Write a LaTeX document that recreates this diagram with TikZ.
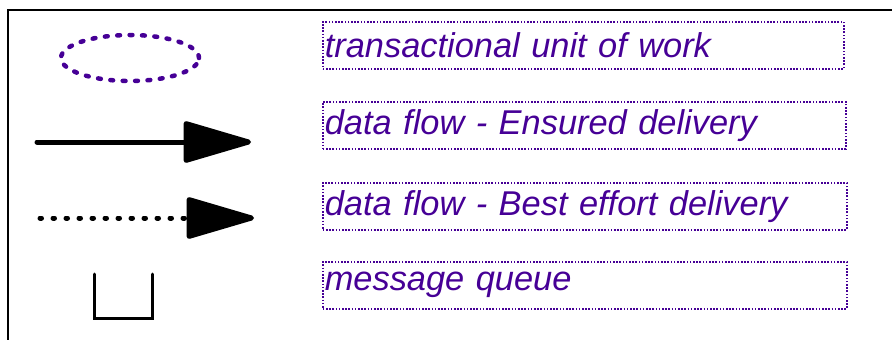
\documentclass[tikz,border=0pt]{standalone}
\usepackage{fontspec}
\setmainfont{Liberation Sans}
\usetikzlibrary{arrows.meta,shapes.geometric}
\definecolor{legendviolet}{RGB}{70,0,150}
\tikzset{
  legendbox/.style={draw=legendviolet,line width=1.6pt,dash pattern=on 1.6pt off 1.6pt,
    minimum height=47pt,inner xsep=2pt,align=left,anchor=north west,
    text=legendviolet,font=\fontsize{34.4}{40}\selectfont\itshape},
  flowtip/.style={-{Triangle[length=74pt,width=42pt,round]}},
}
\begin{document}
\begin{tikzpicture}[x=1pt,y=-1pt]
\useasboundingbox (0,0) rectangle (892,340);
\clip (0,0) rectangle (892,340);
\draw[line width=2.6pt] (900,10) -- (8,10) -- (8,350);
\node[draw=legendviolet,ellipse,line width=4.5pt,dash pattern=on 2.8pt off 9.6pt,line cap=round,
  minimum width=138pt,minimum height=46pt,inner sep=0pt] (unit) at (130,58) {};
\coordinate (safeA) at (37,142);
\coordinate (safeB) at (251,142);
\draw[flowtip,line width=5pt,line cap=round] (safeA) -- (safeB);
\coordinate (bestA) at (40,218);
\coordinate (bestB) at (254,218);
\draw[flowtip,line width=5pt,line cap=round,dash pattern=on 1.5pt off 11.5pt] (bestA) -- (bestB);
\coordinate (qa) at (94,274);
\coordinate (qb) at (94,318);
\coordinate (qc) at (152,318);
\coordinate (qd) at (152,274);
\draw[line width=3pt,line cap=round] (qa) -- (qb) -- (qc) -- (qd);
\node[legendbox,text width=517pt] (lunit) at (322,21) {transactional unit of work};
\node[legendbox,text width=519pt] (lsafe) at (322,101) {data flow - Ensured delivery};
\node[legendbox,text width=520pt] (lbest) at (322,182) {data flow - Best effort delivery};
\node[legendbox,text width=520pt] (lqueue) at (322,261) {message queue};
\end{tikzpicture}
\end{document}
